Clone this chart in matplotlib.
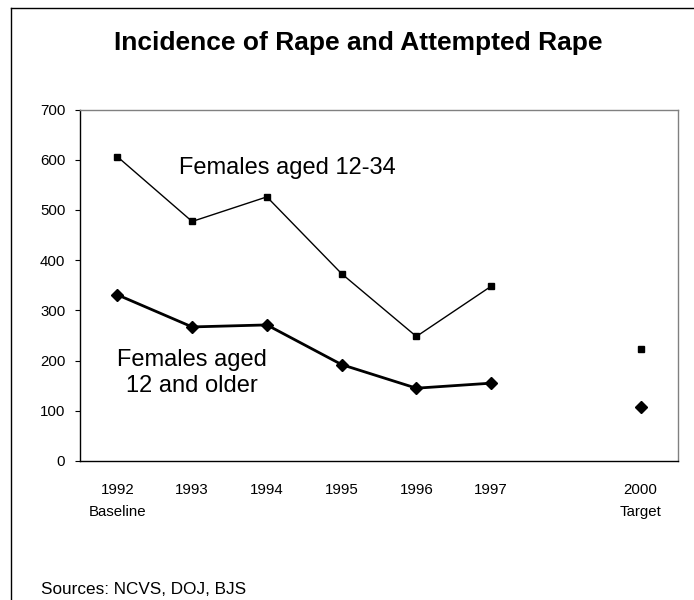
import numpy as np
import matplotlib
matplotlib.use("Agg")
import matplotlib.pyplot as plt
from matplotlib.lines import Line2D

plt.rcParams['font.family'] = ['Liberation Sans', 'DejaVu Sans']

# ---- data ----
categories = ['1992\nBaseline', '1993', '1994', '1995', '1996', '1997', '', '2000\nTarget']
females_12_34 = [606, 477, 526, 373, 248, 348, np.nan, 224]
females_12_older = [331, 267, 271, 192, 145, 155, np.nan, 107]
yticks = [0, 100, 200, 300, 400, 500, 600, 700]
title = 'Incidence of Rape and Attempted Rape'
label_top = 'Females aged 12-34'
label_bottom = 'Females aged\n12 and older'
source = 'Sources: NCVS, DOJ, BJS'

W, H = 694, 600
fig = plt.figure(figsize=(W / 100, H / 100), dpi=100)

# figure border (top and left visible)
fig.add_artist(Line2D([11 / W, 11 / W], [0, 1 - 8 / H], transform=fig.transFigure, color='black', lw=1.0))
fig.add_artist(Line2D([11 / W, 1.0], [1 - 8 / H, 1 - 8 / H], transform=fig.transFigure, color='black', lw=1.0))

ax = fig.add_axes([80 / W, 1 - 461 / H, (678 - 80) / W, (461 - 109.5) / H])
x = np.arange(len(categories))

ax.plot(x, females_12_34, color='black', lw=1.0, marker='s', markersize=4, zorder=3)
ax.plot(x, females_12_older, color='black', lw=2.0, marker='D', markersize=6.5, zorder=3)

ax.set_xlim(-0.5, len(categories) - 0.5)
ax.set_ylim(0, 700)
ax.set_yticks(yticks)
ax.set_yticklabels([str(v) for v in yticks], fontsize=10.8)
ax.set_xticks(x)
ax.set_xticklabels(categories, fontsize=10.8, linespacing=1.75, va='top')
ax.tick_params(axis='x', length=0, pad=16)
ax.tick_params(axis='y', length=3.6, width=0.8, pad=7, direction='out')

for side in ['left', 'bottom']:
    ax.spines[side].set_color('black')
    ax.spines[side].set_linewidth(1.0)
for side in ['top', 'right']:
    ax.spines[side].set_color('#808080')
    ax.spines[side].set_linewidth(1.0)

ax.text(0.83, 571, label_top, fontsize=17, ha='left', va='baseline')
ax.text(1.0, 137, label_bottom, fontsize=17, ha='center', va='baseline',
        multialignment='center', linespacing=1.25)

fig.text(358 / W, 1 - 50 / H, title, fontsize=19, fontweight='bold', ha='center', va='baseline')
fig.text(41 / W, 1 - 594 / H, source, fontsize=12.3, ha='left', va='baseline')

fig.savefig('out.png', dpi=100)
